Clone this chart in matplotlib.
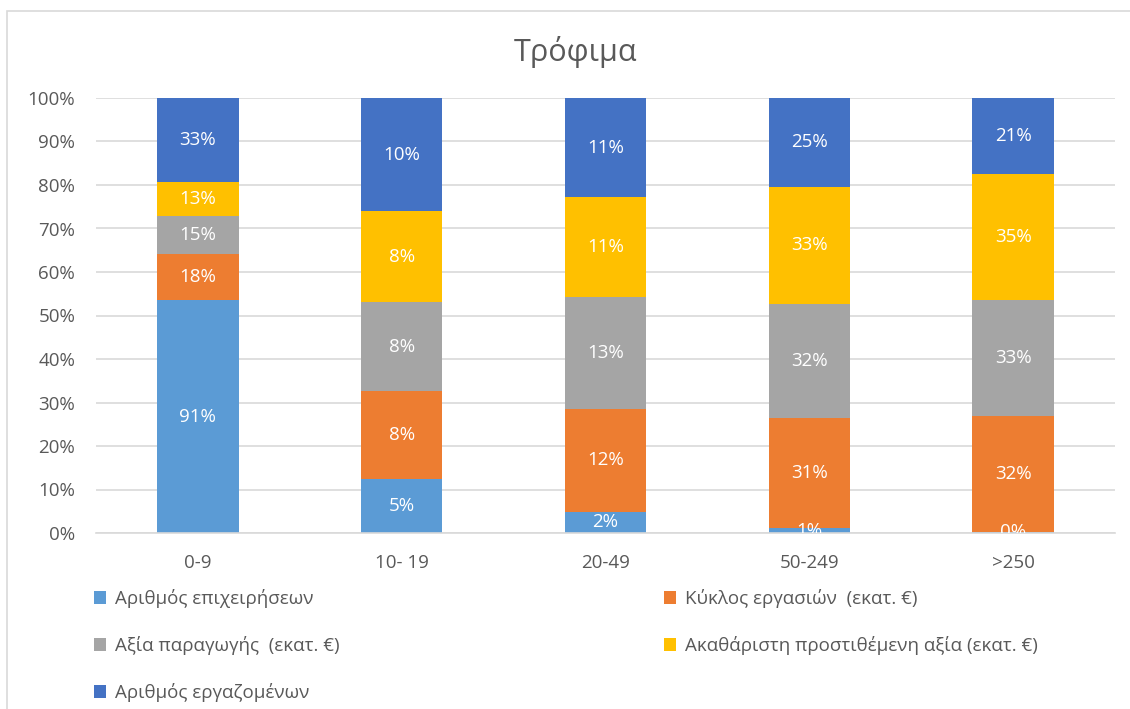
import matplotlib
matplotlib.use("Agg")
import matplotlib.pyplot as plt
import numpy as np
from matplotlib.patches import Rectangle
from matplotlib.ticker import PercentFormatter

plt.rcParams['font.family'] = ['Open Sans', 'DejaVu Sans']

title = "Τρόφιμα"
categories = ["0-9", "10- 19", "20-49", "50-249", ">250"]
series_names = [
    "Αριθμός επιχειρήσεων",
    "Κύκλος εργασιών  (εκατ. €)",
    "Αξία παραγωγής  (εκατ. €)",
    "Ακαθάριστη προστιθέμενη αξία (εκατ. €)",
    "Αριθμός εργαζομένων",
]
# share (%) of each size class within each indicator
biz = [91.0, 4.9, 2.4, 1.4, 0.3]
turnover = [18.0, 7.9, 11.6, 31.0, 32.4]
production = [15.0, 8.0, 12.6, 32.0, 32.6]
gva = [13.0, 8.2, 11.3, 33.0, 35.2]
employees = [33.0, 10.2, 11.2, 25.0, 21.4]

colors = ["#5B9BD5", "#ED7D31", "#A5A5A5", "#FFC000", "#4472C4"]
text_gray = "#595959"

data = np.array([biz, turnover, production, gva, employees])
totals = data.sum(axis=0)
norm = data / totals * 100

fig = plt.figure(figsize=(11.3, 7.09), dpi=100)
# chart border
fig.patches.append(Rectangle((7 / 1130, -0.01), 1.2, 1 - 11 / 709 + 0.01,
                             transform=fig.transFigure, fill=False,
                             edgecolor="#D9D9D9", linewidth=1.2))

ax = fig.add_axes([96 / 1130, 1 - 533 / 709, (1115 - 96) / 1130, (533 - 98) / 709])
x = np.arange(len(categories))
bottom = np.zeros(len(categories))
handles = []
for i in range(len(series_names)):
    b = ax.bar(x, norm[i], 0.4, bottom=bottom, color=colors[i],
               label=series_names[i], zorder=2)
    handles.append(b)
    for j in range(len(categories)):
        ax.text(x[j], bottom[j] + norm[i][j] / 2, f"{round(data[i][j]):.0f}%",
                ha="center", va="center", color="white", fontsize=13.5,
                zorder=3, clip_on=True)
    bottom += norm[i]

ax.set_xlim(-0.5, 4.5)
ax.set_ylim(0, 100)
ax.set_yticks(np.arange(0, 101, 10))
ax.yaxis.set_major_formatter(PercentFormatter(decimals=0))
ax.set_xticks(x)
ax.set_xticklabels(categories)
ax.tick_params(axis="both", length=0, labelsize=13.5, colors=text_gray)
ax.tick_params(axis="x", pad=15)
ax.tick_params(axis="y", pad=15)
ax.grid(axis="y", color="#D9D9D9", linewidth=1.2, zorder=0)
for s in ax.spines.values():
    s.set_visible(False)
ax.spines["bottom"].set_visible(True)
ax.spines["bottom"].set_color("#D9D9D9")
ax.spines["bottom"].set_linewidth(1.2)

fig.text(575 / 1130, 1 - 52 / 709, title, ha="center", va="center",
         fontsize=22, color=text_gray)

leg_kw = dict(frameon=False, fontsize=13.5, handlelength=0.65, handleheight=0.65,
              handletextpad=0.45, labelspacing=1.5, labelcolor=text_gray,
              borderpad=0, borderaxespad=0)
leg1 = fig.legend([handles[k] for k in (0, 2, 4)],
                  [series_names[k] for k in (0, 2, 4)],
                  loc="upper left", bbox_to_anchor=(94 / 1130, 1 - 589 / 709),
                  **leg_kw)
leg2 = fig.legend([handles[k] for k in (1, 3)],
                  [series_names[k] for k in (1, 3)],
                  loc="upper left", bbox_to_anchor=(664 / 1130, 1 - 589 / 709),
                  **leg_kw)

fig.savefig("out.png", dpi=100)
